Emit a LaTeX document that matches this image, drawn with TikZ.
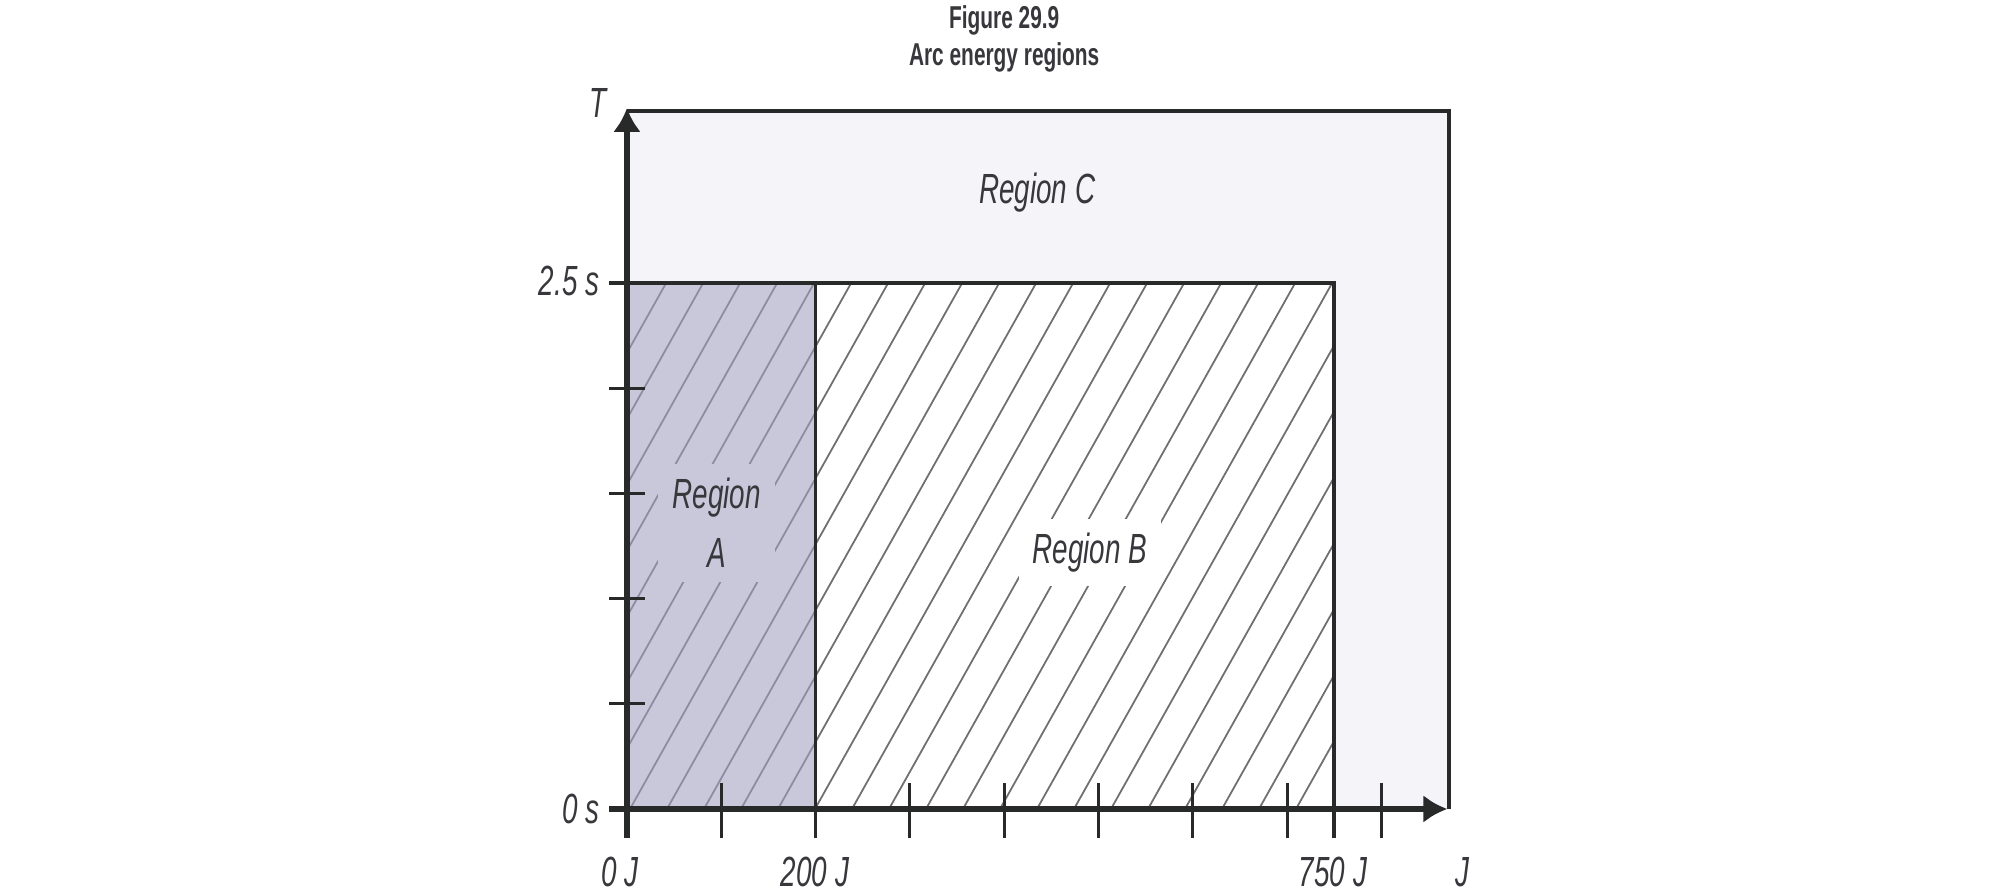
\documentclass[tikz,border=0pt]{standalone}
\usepackage{fontspec}
\setmainfont{Liberation Sans}
\newfontfamily\narrowsans[FakeStretch=0.66]{Liberation Sans}
\usetikzlibrary{arrows.meta}
\definecolor{regionA}{RGB}{201,200,219}
\definecolor{regionC}{RGB}{244,244,249}
\definecolor{axisgray}{RGB}{40,42,42}
\definecolor{textgray}{RGB}{55,55,60}
\definecolor{hatchA}{RGB}{140,140,160}
\definecolor{hatchB}{RGB}{110,110,115}
\tikzset{
  lbl/.style={inner sep=0pt, text=textgray, font=\narrowsans\itshape\fontsize{12pt}{17pt}\selectfont},
  regionlbl/.style={lbl, inner sep=4pt, align=center},
  hatchline/.style={line width=0.5pt},
  tickmark/.style={axisgray, line width=0.9pt},
  regline/.style={axisgray, line width=1pt},
}
\begin{document}
\begin{tikzpicture}[x=0.943cm, y=2.104cm]
    \useasboundingbox (-6.649,-0.4135) rectangle (14.645,3.845);

    \fill[regionC] (0,0) rectangle (8.717,3.3175);
    \fill[regionA] (0,0) rectangle (2,2.5);
    \fill[white] (2,0) rectangle (7.5,2.5);

    \begin{scope}
      \clip (0,0) rectangle (2,2.5);
      \foreach \k in {-9,...,6}
        \draw[hatchline, hatchA] ([xshift={0.03cm+0.37cm*\k}]0,0) -- ++(60.7:7cm);
    \end{scope}
    \begin{scope}
      \clip (2,0) rectangle (7.5,2.5);
      \foreach \k in {-4,...,20}
        \draw[hatchline, hatchB] ([xshift={0.03cm+0.37cm*\k}]0,0) -- ++(60.7:7cm);
    \end{scope}

    \node[regionlbl, fill=regionA] (regA) at (0.95,1.36) {Region\\A};
    \node[regionlbl, fill=white] (regB) at (4.91,1.22) {Region B};
    \node[lbl] (regC) at (4.35,2.93) {Region C};

    \draw[axisgray, line width=1.2pt] (0,3.3175) -- (8.717,3.3175) -- (8.717,0);
    \draw[regline] (-0.19,2.5) -- (7.5,2.5) -- (7.5,-0.138);
    \draw[regline] (2,2.5) -- (2,-0.138);

    \draw[axisgray, line width=1.7pt, -{Latex[length=2.4mm,width=2.8mm]}] (-0.19,0) -- (8.70,0);
    \draw[axisgray, line width=1.7pt, -{Latex[length=2.4mm,width=2.8mm]}] (0,-0.138) -- (0,3.332);

    \foreach \x in {1,3,4,5,6,7,8}
      \draw[tickmark] (\x,-0.138) -- (\x,0.124);
    \foreach \y in {0.5,1,1.5,2}
      \draw[tickmark] (-0.19,\y) -- (0.19,\y);

    \node[lbl] (tlabel) at (-0.31,3.356) {T};
    \node[lbl, anchor=east] (tmax) at (-0.286,2.51) {2.5 s};
    \node[lbl, anchor=east] (tzero) at (-0.286,0) {0 s};
    \node[lbl] (jzero) at (-0.074,-0.30) {0 J};
    \node[lbl] (jtwo) at (1.994,-0.30) {200 J};
    \node[lbl] (jseven) at (7.487,-0.30) {750 J};
    \node[lbl] (jlabel) at (8.855,-0.30) {J};

    \node[inner sep=0pt, text=textgray, align=center,
          font=\narrowsans\bfseries\fontsize{9pt}{10.5pt}\selectfont]
          (title) at (4.0,3.662) {Figure 29.9\\Arc energy regions};
\end{tikzpicture}
\end{document}
